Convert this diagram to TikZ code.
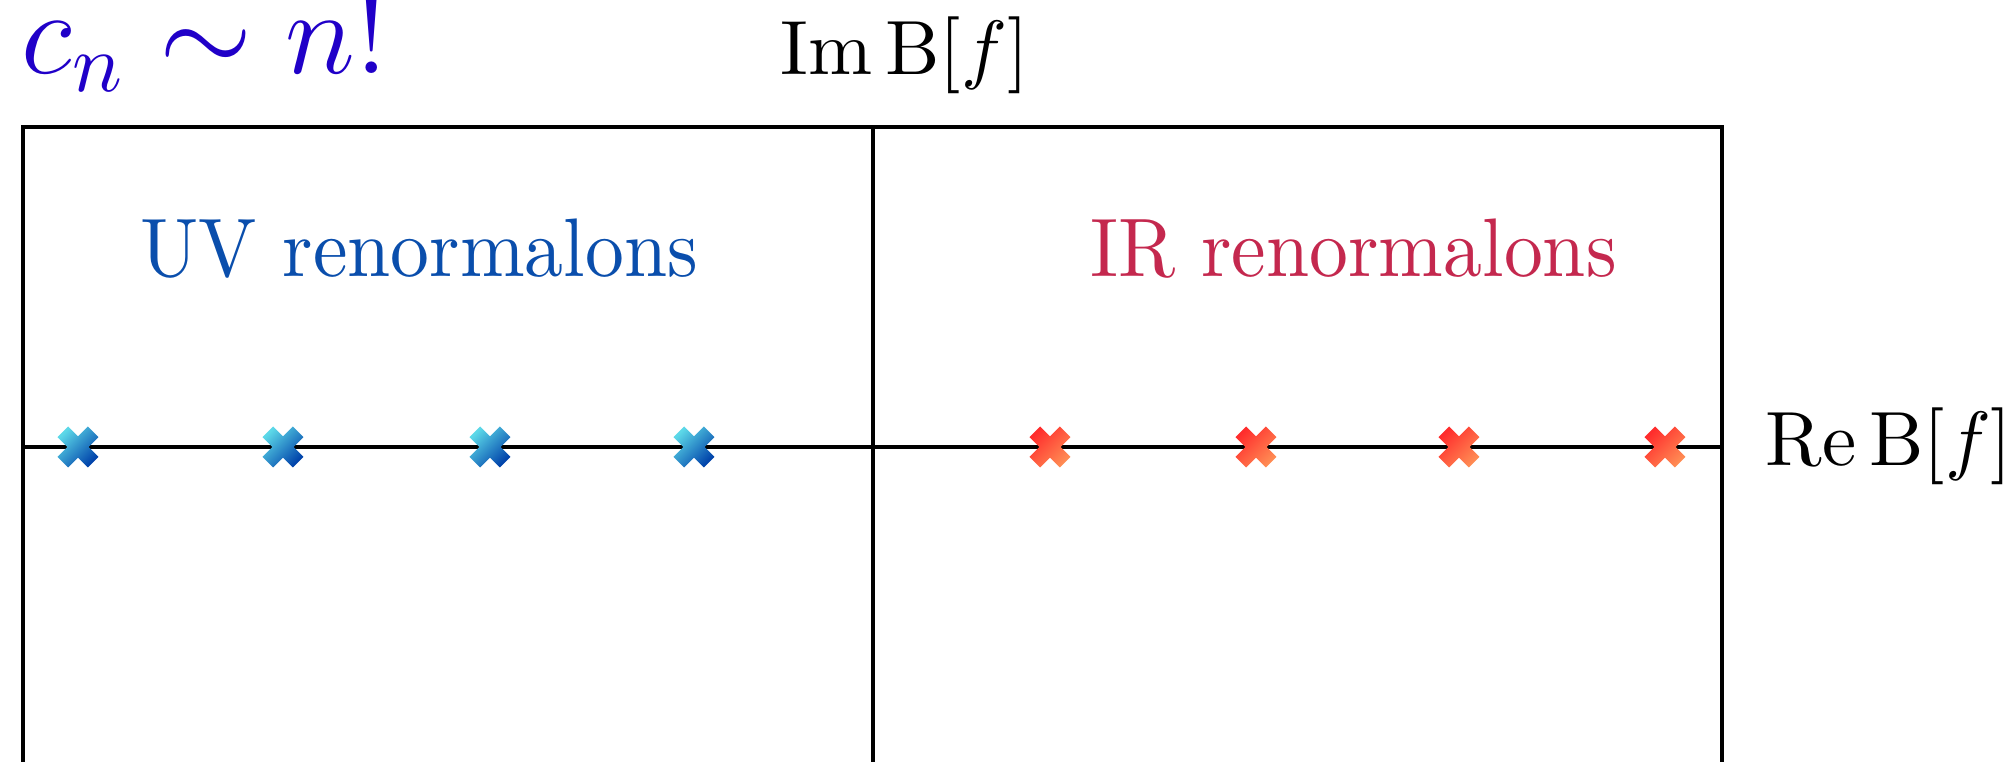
\documentclass[tikz,border=0pt]{standalone}

\definecolor{cnviolet}{RGB}{32,0,200}
\definecolor{uvblue}{RGB}{10,78,172}
\definecolor{irred}{RGB}{196,40,78}
\definecolor{uvlight}{RGB}{92,216,232}
\definecolor{uvdark}{RGB}{0,66,170}
\definecolor{irlight}{RGB}{255,44,44}
\definecolor{irdark}{RGB}{255,140,84}

\begin{document}
\begin{tikzpicture}[x=0.13pt, y=-0.13pt, every node/.style={inner sep=0pt},
  axisline/.style={line width=0.55pt},
  regionlabel/.style={font=\fontsize{10.8}{13}\selectfont, xscale=0.935, transform shape, anchor=base west},
  uv cross/.style={top color=uvlight, bottom color=uvdark, shading angle=45},
  ir cross/.style={top color=irlight, bottom color=irdark, shading angle=45},
  xmark/.pic={\shade[#1] (9.9,20.5) -- (0,10.6) -- (-9.9,20.5) -- (-20.5,9.9) -- (-10.6,0)
    -- (-20.5,-9.9) -- (-9.9,-20.5) -- (0,-10.6) -- (9.9,-20.5) -- (20.5,-9.9) -- (10.6,0)
    -- (20.5,9.9) -- cycle;}]
  \useasboundingbox (0,0) rectangle (2005,762);
  \clip (0,0) rectangle (2005,762);

  \coordinate (boxTL) at (23,127);
  \coordinate (boxTR) at (1722,127);
  \coordinate (boxBL) at (23,800);
  \coordinate (boxBR) at (1722,800);
  \coordinate (imTop) at (873,127);
  \coordinate (imBot) at (873,800);
  \coordinate (reLeft) at (23,447);
  \coordinate (reRight) at (1722,447);

  % frame and axes
  \draw[axisline] (boxBL) -- (boxTL) -- (boxTR) -- (boxBR);
  \draw[axisline] (imTop) -- (imBot);
  \draw[axisline] (reLeft) -- (reRight);

  % poles on the real axis
  \pic at (78,447) {xmark=uv cross};
  \pic at (283,447) {xmark=uv cross};
  \pic at (490,447) {xmark=uv cross};
  \pic at (694,447) {xmark=uv cross};
  \pic at (1050,447) {xmark=ir cross};
  \pic at (1256,447) {xmark=ir cross};
  \pic at (1459,447) {xmark=ir cross};
  \pic at (1665,447) {xmark=ir cross};

  \node[anchor=base west, text=cnviolet, font=\Large, scale=1.08, transform shape] (cnlabel) at (20,74) {$c_n \sim n!$};
  \node[anchor=base west] (imlabel) at (779,75) {$\mathrm{Im}\,\mathrm{B}[f]$};
  \node[anchor=base west] (relabel) at (1764,466) {$\mathrm{Re}\,\mathrm{B}[f]$};
  \node[regionlabel, text=uvblue] (uvlabel) at (139,277) {UV renormalons};
  \node[regionlabel, text=irred] (irlabel) at (1089,277) {IR renormalons};
\end{tikzpicture}
\end{document}
